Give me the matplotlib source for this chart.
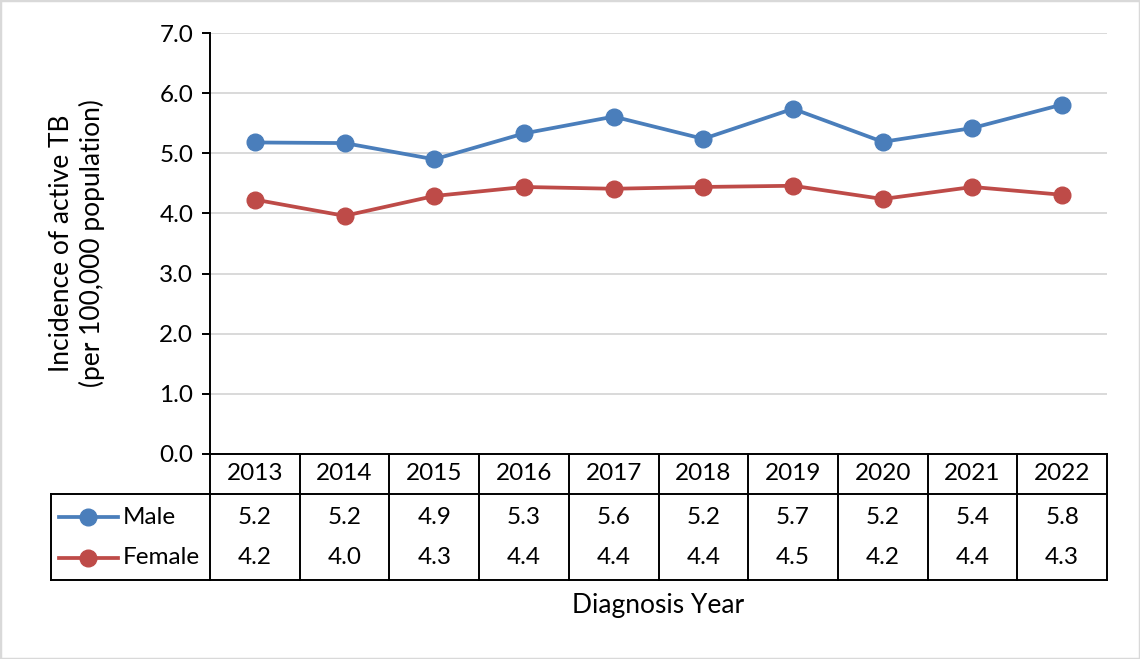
import matplotlib
matplotlib.use("Agg")
import matplotlib.pyplot as plt
import matplotlib.transforms as mtransforms
from matplotlib.lines import Line2D
from matplotlib.patches import Rectangle

years = ["2013", "2014", "2015", "2016", "2017", "2018", "2019", "2020", "2021", "2022"]
male = [5.18, 5.17, 4.90, 5.33, 5.61, 5.24, 5.74, 5.19, 5.42, 5.81]
female = [4.23, 3.96, 4.29, 4.44, 4.41, 4.44, 4.46, 4.24, 4.44, 4.31]
male_labels = ["5.2", "5.2", "4.9", "5.3", "5.6", "5.2", "5.7", "5.2", "5.4", "5.8"]
female_labels = ["4.2", "4.0", "4.3", "4.4", "4.4", "4.4", "4.5", "4.2", "4.4", "4.3"]

blue = "#4a7ebb"
red = "#be4b48"
fs = 17.5
lfs = 19

plt.rcParams["font.family"] = ["Lato", "DejaVu Sans"]

W, H = 1140, 659
fig = plt.figure(figsize=(W / 100, H / 100), dpi=100)


def fx(px):
    return px / W


def fy(py):
    return 1 - py / H


ax = fig.add_axes([fx(210), fy(454), fx(1107) - fx(210), fy(33) - fy(454)])
x = list(range(len(years)))
ax.plot(x, male, color=blue, lw=2.7, marker="o", ms=12, zorder=3)
ax.plot(x, female, color=red, lw=2.7, marker="o", ms=12, zorder=3)

ax.set_xlim(-0.5, len(years) - 0.5)
ax.set_ylim(0, 7)
ax.set_yticks([0, 1, 2, 3, 4, 5, 6, 7])
ax.set_yticklabels([f"{v:.1f}" for v in range(8)], fontsize=fs)
ax.set_xticks([])
ax.grid(axis="y", color="#d9d9d9", lw=1.4)
ax.set_axisbelow(True)
for s in ["top", "right"]:
    ax.spines[s].set_visible(False)
ax.spines["left"].set_linewidth(1.4)
ax.spines["bottom"].set_linewidth(1.4)
ax.tick_params(axis="y", length=6, width=1.4, pad=6)

fig.text(fx(77), fy(243), "Incidence of active TB\n(per 100,000 population)",
         rotation=90, ha="center", va="center", fontsize=lfs, linespacing=1.25)

# data table below the plot
bt = mtransforms.blended_transform_factory(ax.transData, fig.transFigure)
kw = dict(color="black", lw=1.4, clip_on=False)
for i in range(len(years) + 1):
    ax.plot([i - 0.5, i - 0.5], [fy(454), fy(580)], transform=bt, **kw)
fig.add_artist(Line2D([fx(51), fx(1107)], [fy(494), fy(494)], **kw))
fig.add_artist(Line2D([fx(51), fx(1107)], [fy(580), fy(580)], **kw))
fig.add_artist(Line2D([fx(51), fx(51)], [fy(494), fy(580)], **kw))

for i, yr in enumerate(years):
    ax.text(i, fy(474), yr, transform=bt, ha="center", va="center", fontsize=fs)
    ax.text(i, fy(517), male_labels[i], transform=bt, ha="center", va="center", fontsize=fs)
    ax.text(i, fy(558), female_labels[i], transform=bt, ha="center", va="center", fontsize=fs)

for name, col, py in [("Male", blue, 517), ("Female", red, 558)]:
    fig.add_artist(Line2D([fx(59), fx(118)], [fy(py), fy(py)], color=col, lw=2.7))
    fig.add_artist(Line2D([fx(88)], [fy(py)], color=col, marker="o", ms=12))
    fig.text(fx(123), fy(py), name, ha="left", va="center", fontsize=fs)

fig.text(fx(658), fy(605), "Diagnosis Year", ha="center", va="center", fontsize=lfs)

fig.add_artist(Rectangle((0, 0), 1, 1, transform=fig.transFigure, fill=False,
                         edgecolor="#d9d9d9", lw=2.5))

fig.savefig("out.png", dpi=100)
